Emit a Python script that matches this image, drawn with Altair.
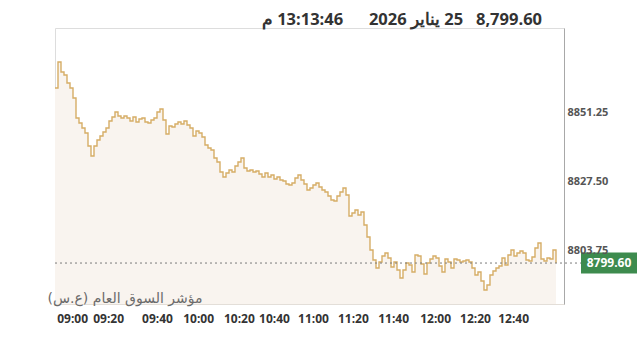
import altair as alt
import pandas as pd

# Index values (one reading every ~3 px along the intraday series)
values = [
    8859.86, 8868.81, 8865.37, 8864.33, 8861.58, 8859.86, 8856.42, 8849.53, 8847.81, 8846.09,
    8844.37, 8839.89, 8836.45, 8839.89, 8841.96, 8843.34, 8844.71, 8846.09, 8848.50, 8849.88,
    8851.60, 8850.22, 8849.53, 8850.22, 8849.53, 8848.50, 8849.88, 8848.16, 8849.19, 8849.53,
    8848.16, 8847.81, 8848.84, 8849.53, 8851.60, 8852.63, 8848.84, 8844.02, 8846.78, 8846.43,
    8847.47, 8848.16, 8847.47, 8848.50, 8847.12, 8846.09, 8843.34, 8845.06, 8844.37, 8842.99,
    8840.24, 8839.21, 8838.52, 8835.76, 8834.39, 8830.94, 8829.22, 8830.60, 8831.63, 8830.94,
    8833.01, 8834.39, 8835.76, 8832.32, 8831.29, 8831.63, 8830.94, 8831.29, 8830.26, 8829.22,
    8830.60, 8829.22, 8829.91, 8828.53, 8829.22, 8828.19, 8827.85, 8826.81, 8826.47, 8827.16,
    8828.88, 8829.91, 8828.19, 8826.81, 8824.75, 8825.44, 8826.47, 8827.16, 8825.78, 8824.75,
    8824.06, 8822.68, 8821.31, 8820.96, 8822.68, 8824.06, 8825.44, 8823.03, 8815.80, 8816.83,
    8817.86, 8816.14, 8817.17, 8812.70, 8808.57, 8804.09, 8800.65, 8797.90, 8799.96, 8802.03,
    8803.06, 8801.34, 8798.24, 8799.96, 8797.21, 8794.46, 8797.21, 8799.62, 8798.93, 8796.52,
    8802.37, 8802.03, 8799.28, 8795.83, 8799.62, 8801.00, 8802.03, 8801.34, 8798.59, 8796.52,
    8801.00, 8799.96, 8797.90, 8801.00, 8800.65, 8799.96, 8800.31, 8800.65, 8799.96, 8797.90,
    8795.49, 8796.52, 8793.42, 8790.33, 8792.05, 8795.49, 8796.87, 8797.90, 8798.59, 8801.34,
    8798.93, 8802.37, 8804.09, 8802.03, 8803.06, 8803.75, 8803.06, 8800.65, 8800.31, 8801.68,
    8804.78, 8806.50, 8801.00, 8800.31, 8801.34, 8801.00, 8804.09, 8799.60,
]

# x-axis tick positions (in reading index) and their labels
tick_pos = [5.7, 17.7, 34, 47.7, 61.3, 73, 86, 99.3, 112.7, 126.7, 140, 152.7]
tick_labels = ["09:00", "09:20", "09:40", "10:00", "10:20", "10:40",
               "11:00", "11:20", "11:40", "12:00", "12:20", "12:40"]

y_ticks = [8803.75, 8827.50, 8851.25]
last_value = [8799.60]
x_domain = [0, 169.67]
y_domain = [8785.5, 8880.5]

RLI, PDI = "\u2067", "\u2069"
NB = "\u00a0"
header = (RLI + "13:13:46 م" + PDI + NB * 6 + RLI + "25 يناير 2026" + PDI
          + NB * 3 + "8,799.60")
index_name = "\u200fمؤشر السوق العام (ع.س)\u200f"

df = pd.DataFrame({"i": list(range(len(values))), "v": values})
ref = pd.DataFrame({"v": last_value})

xscale = alt.Scale(domain=x_domain, nice=False, zero=False)
yscale = alt.Scale(domain=y_domain, nice=False, zero=False)

label_expr = "{}[indexof({}, datum.value)]".format(
    "[" + ",".join("'%s'" % t for t in tick_labels) + "]",
    "[" + ",".join(str(p) for p in tick_pos) + "]",
)

x_enc = alt.X(
    "i:Q", scale=xscale,
    axis=alt.Axis(
        values=tick_pos, labelExpr=label_expr, ticks=False, grid=False,
        domain=True, domainColor="#e3ded8", labelPadding=9, zindex=2,
        labelFont="Open Sans", labelFontSize=12, labelFontWeight="bold",
        labelColor="#333333", labelAlign="center", labelOverlap=False,
        title=index_name, titleFont="DejaVu Sans", titleFontSize=14,
        titleFontWeight="normal", titleColor="#6b6b6b", titleAlign="left",
        titleAnchor="start", titleX=-8, titleY=-6, titleBaseline="middle",
    ),
)
y_enc = alt.Y(
    "v:Q", scale=yscale,
    axis=alt.Axis(
        orient="right", values=y_ticks, format=".2f", ticks=False, grid=False,
        domain=True, domainColor="#a8a8a8", labelPadding=3, zindex=2,
        labelFont="Open Sans", labelFontSize=11, labelFontWeight="bold",
        labelColor="#555555", title=None,
    ),
)

base = alt.Chart(df)
area = base.mark_area(color="#f9f4ef", opacity=1, interpolate="step-after").encode(
    x=x_enc, y=y_enc, y2=alt.datum(y_domain[0])
)
line = base.mark_line(color="#d6ad66", strokeWidth=1.4, interpolate="step-after").encode(
    x=x_enc, y=y_enc
)

rule = alt.Chart(ref).mark_rule(color="#7a7a7a", strokeDash=[2, 3], strokeWidth=1).encode(
    y=y_enc, x=alt.value(0), x2=alt.value(527)
)
badge = alt.Chart(ref).mark_point(
    shape="M-1,-0.375H1V0.375H-1Z", size=3136, filled=True, opacity=1,
    color="#3d8b4e", strokeWidth=0
).encode(y=y_enc, x=alt.value(554))
badge_text = alt.Chart(ref).mark_text(
    color="white", font="Open Sans", fontSize=12, fontWeight="bold",
    align="center", baseline="middle"
).encode(y=y_enc, x=alt.value(554), text=alt.Text("v:Q", format=".2f"))

chart = alt.layer(area, line, rule, badge, badge_text).properties(
    width=509, height=276,
    padding={"left": 55, "top": 28, "right": 76, "bottom": 42},
    autosize=alt.AutoSizeParams(type="none"),
    title=alt.TitleParams(
        text=header, anchor="end", font="Open Sans", fontSize=16.5,
        fontWeight="bold", color="#333333", dx=-22, dy=15, offset=2,
        baseline="alphabetic", frame="group",
    ),
).configure_view(stroke=None).configure(background="white")

chart.save("out.html", embed_options={"renderer": "svg", "actions": False})
